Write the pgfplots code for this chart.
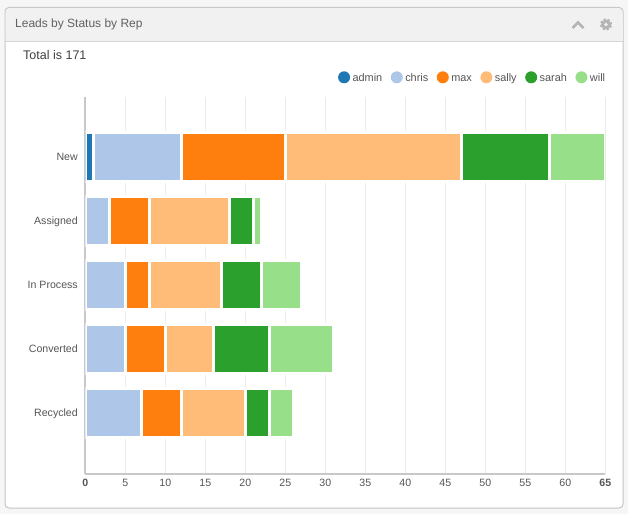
\documentclass[border=0pt]{standalone}
\usepackage{pgfplots}
\pgfplotsset{compat=1.18}
\usepackage{fontspec}
\setmainfont{Liberation Sans}
\definecolor{cadmin}{HTML}{1F77B4}
\definecolor{cchris}{HTML}{AEC7E8}
\definecolor{cmax}{HTML}{FF7F0E}
\definecolor{csally}{HTML}{FFBB78}
\definecolor{csarah}{HTML}{2CA02C}
\definecolor{cwill}{HTML}{98DF8A}
\definecolor{txt}{HTML}{555555}
\definecolor{pagebg}{HTML}{F6F6F6}
\definecolor{headbg}{HTML}{F1F1F1}
\definecolor{frameline}{HTML}{C4C4C4}
\definecolor{gridc}{HTML}{EBEBEB}
\definecolor{axisc}{HTML}{C8C8C8}
\definecolor{iconc}{HTML}{B5B5B5}
\begin{document}
\begin{tikzpicture}[x=1pt,y=1pt]
\fill[pagebg] (0,0) rectangle (628,514);
\fill[white,draw=frameline,line width=1pt,rounded corners=4pt] (5,6) rectangle (623,506.5);
\fill[headbg,rounded corners=4pt] (5.5,473) rectangle (622.5,506);
\fill[headbg] (5.5,473) rectangle (622.5,490);
\draw[draw=frameline!70,line width=0.7pt] (5,473) -- (623,473);
\node[anchor=west,text=black!62,font=\fontsize{12pt}{13pt}\selectfont,inner sep=0pt] at (15,489.5) {Leads by Status by Rep};
\node[anchor=west,text=black!75,font=\fontsize{12.5pt}{14pt}\selectfont,inner sep=0pt] at (23,459) {Total is 171};
\draw[iconc,line width=2.6pt] (572.5,486) -- (578,491.5) -- (583.5,486);
\fill[iconc] (606,489.5) circle (4.8);
\draw[iconc,line width=2.4pt,dash pattern=on 2.3pt off 1.7pt] (606,489.5) circle (5.1);
\fill[headbg] (606,489.5) circle (1.9);
\pgfplotsset{common/.style={
  at={(85.3pt,40.5pt)},anchor=south west,
  scale only axis,width=520pt,height=377pt,
  xmin=0,xmax=65,
  ymin=-0.938,ymax=4.952,
  y dir=reverse}}
\begin{axis}[
  common,
  axis lines=left,
  axis line style={axisc,line width=2pt,-},
  xtick={0,5,10,15,20,25,30,35,40,45,50,55,60,65},
  xticklabels={\textbf{0},5,10,15,20,25,30,35,40,45,50,55,60,\textbf{65}},
  ytick={0,1,2,3,4},
  yticklabels={New,Assigned,In Process,Converted,Recycled},
  xmajorgrids,
  major grid style={gridc,line width=1.5pt},
  major tick length=0pt,
  tick style={draw=none},
  ticklabel style={font=\fontsize{10.6pt}{12pt}\selectfont,text=txt},
  xticklabel style={yshift=-2.5pt},
  yticklabel style={xshift=-4pt,yshift=-0.5pt,text height=8pt,text depth=2pt},
  /pgf/number format/assume math mode=true,
]
\end{axis}
\begin{axis}[
  common,
  hide axis,
  xbar stacked,
  bar width=49pt,
  legend columns=-1,
  legend cell align=left,
  legend style={at={(1,1)},anchor=south east,xshift=0pt,yshift=13pt,draw=none,fill=none,
    font=\fontsize{10.9pt}{12pt}\selectfont,text=txt,inner sep=0pt,
    nodes={inner sep=0pt,text height=8pt,text depth=2pt},
    /tikz/every even column/.style={column sep=8.5pt},
    /tikz/every odd column/.style={column sep=2.5pt}},
  every axis plot/.append style={draw=white,line width=3pt,
    /pgfplots/legend image code/.code={\fill[##1,draw=none] (0pt,1pt) circle (6pt);}},
]
\addplot[fill=cadmin] coordinates {(1,0) (0,1) (0,2) (0,3) (0,4)};
\addplot[fill=cchris] coordinates {(11,0) (3,1) (5,2) (5,3) (7,4)};
\addplot[fill=cmax] coordinates {(13,0) (5,1) (3,2) (5,3) (5,4)};
\addplot[fill=csally] coordinates {(22,0) (10,1) (9,2) (6,3) (8,4)};
\addplot[fill=csarah] coordinates {(11,0) (3,1) (5,2) (7,3) (3,4)};
\addplot[fill=cwill] coordinates {(7,0) (1,1) (5,2) (8,3) (3,4)};
\legend{admin,chris,max,sally,sarah,will}
\end{axis}
\end{tikzpicture}
\end{document}
